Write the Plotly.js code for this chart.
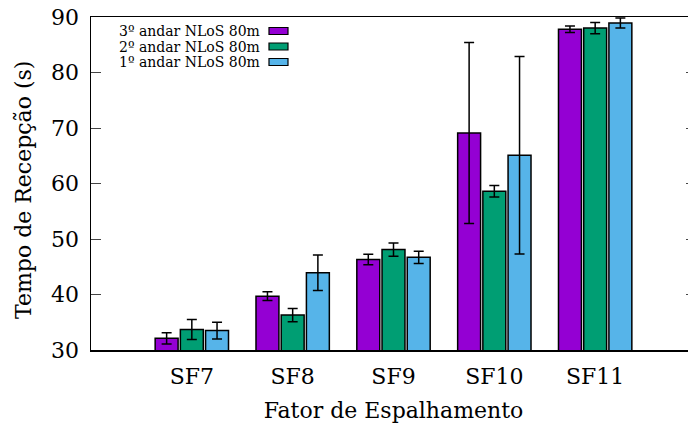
<!DOCTYPE html>
<html>
<head>
<meta charset="utf-8">
<script src="https://cdn.plot.ly/plotly-3.0.1.min.js"></script>
<style>
  html, body { margin: 0; padding: 0; overflow: hidden; background: #fff; }
  #chart { width: 696px; height: 425px; }
</style>
</head>
<body>
<div id="chart"></div>
<script>
// Spreading factors on the x axis
const categories = ['SF7', 'SF8', 'SF9', 'SF10', 'SF11'];

// Series names and colours
const seriesNames = ['3º andar NLoS 80m', '2º andar NLoS 80m', '1º andar NLoS 80m'];
const seriesColors = ['#9400D3', '#009E73', '#56B4E9'];

// Mean reception time (s) per floor
const floor3Mean = [32.1, 39.7, 46.3, 69.1, 87.8];
const floor2Mean = [33.7, 36.3, 48.1, 58.6, 88.0];
const floor1Mean = [33.5, 43.9, 46.7, 65.1, 88.9];

// Error (± s) per floor
const floor3Err = [1.0, 0.8, 0.95, 16.3, 0.6];
const floor2Err = [1.8, 1.2, 1.2, 1.05, 1.0];
const floor1Err = [1.5, 3.2, 1.1, 17.8, 0.9];

// Y axis ticks
const yTicks = [30, 40, 50, 60, 70, 80, 90];

const means = [floor3Mean, floor2Mean, floor1Mean];
const errs = [floor3Err, floor2Err, floor1Err];

const fontFamily = '"DejaVu Serif", "Liberation Serif", serif';

const traces = means.map((m, i) => ({
  type: 'bar',
  name: seriesNames[i],
  x: categories,
  y: m,
  marker: { color: seriesColors[i], line: { color: '#000', width: 1.5 } },
  error_y: { type: 'data', array: errs[i], visible: true, color: '#000', thickness: 1.5, width: 5 },
  showlegend: false
}));

// Legend drawn as right-aligned labels followed by colour keys
const legendRowsY = [0.9580, 0.9114, 0.8649];
const annotations = seriesNames.map((name, i) => ({
  xref: 'paper', yref: 'paper',
  x: 0.2826, y: legendRowsY[i],
  xanchor: 'right', yanchor: 'middle',
  text: name, showarrow: false,
  font: { family: fontFamily, size: 14, color: '#000' }
}));

// Y axis title, placed by hand so it sits slightly below the plot's middle
annotations.push({
  xref: 'paper', yref: 'paper',
  x: -0.1107, y: 0.4805,
  xanchor: 'center', yanchor: 'middle',
  textangle: -90,
  text: 'Tempo de Recepção (s)', showarrow: false,
  font: { family: fontFamily, size: 22, color: '#000' }
});

const shapes = seriesColors.map((c, i) => ({
  type: 'rect', xref: 'paper', yref: 'paper',
  x0: 0.2942, x1: 0.3256,
  y0: legendRowsY[i] - 0.0105, y1: legendRowsY[i] + 0.0105,
  fillcolor: c, line: { color: '#000', width: 1.2 }
}));

const layout = {
  width: 696, height: 425,
  margin: { l: 91, r: 0, t: 17, b: 75 },
  paper_bgcolor: '#fff', plot_bgcolor: '#fff',
  barmode: 'group', bargap: 0.25, bargroupgap: 0.09,
  font: { family: fontFamily, size: 22, color: '#000' },
  xaxis: {
    type: 'category',
    range: [-1, 5],
    showline: true, linecolor: '#000', linewidth: 1.5,
    mirror: true,
    ticks: '', showgrid: false, zeroline: false,
    tickfont: { family: fontFamily, size: 22, color: '#000' },
    ticklabelstandoff: 6,
    title: { text: 'Fator de Espalhamento', font: { family: fontFamily, size: 22, color: '#000' }, standoff: 14 }
  },
  yaxis: {
    range: [30, 90],
    tickvals: yTicks,
    showline: true, linecolor: '#000', linewidth: 1.5,
    mirror: 'ticks',
    ticks: 'inside', ticklen: 10, tickcolor: '#444', tickwidth: 1,
    showgrid: false, zeroline: false,
    tickfont: { family: fontFamily, size: 22, color: '#000' },
    ticklabelstandoff: 6
  },
  annotations: annotations,
  shapes: shapes
};

Plotly.newPlot('chart', traces, layout, { displayModeBar: false, staticPlot: true });
</script>
</body>
</html>
